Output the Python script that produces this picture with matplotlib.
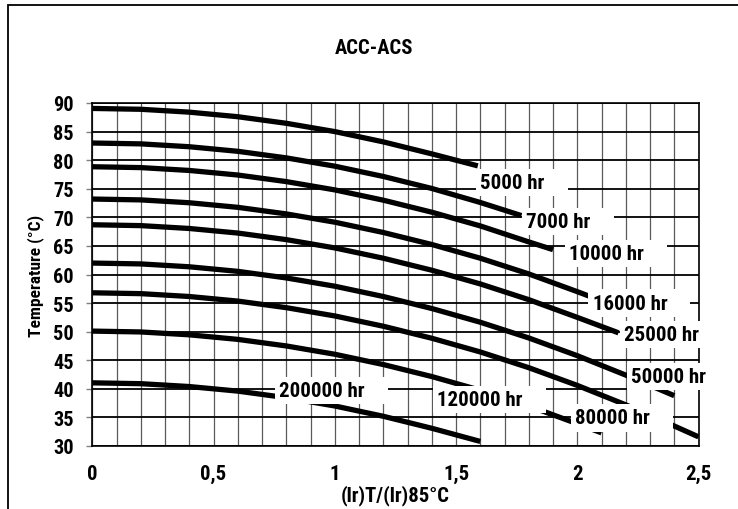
import os
import matplotlib.pyplot as plt
from matplotlib import font_manager
from matplotlib.textpath import TextPath
import numpy as np

# the original uses a tall condensed face; pick the narrowest bold file on the system
def narrow_bold():
    files = font_manager.findSystemFonts()
    prefs = ['NotoSans-ExtraCondensedBold.', 'LiberationSansNarrow-Bold.', 'RobotoCondensed-Bold.',
             'Roboto-CondensedBold', 'NotoSans-CondensedBold.', 'OpenSans-CondensedBold',
             'OpenSans_Condensed-Bold', 'DejaVuSansCondensed-Bold.']
    for p in prefs:
        for f in files:
            if os.path.basename(f).startswith(p):
                return font_manager.FontProperties(fname=f)
    for f in files:
        b = os.path.basename(f)
        if ('Condensed' in b or 'Narrow' in b) and 'Bold' in b and 'Italic' not in b:
            return font_manager.FontProperties(fname=f)
    return font_manager.FontProperties(family='DejaVu Sans', weight='bold')

FP = narrow_bold()

def size_for(text, px_wide, grow=1.1):
    # font size (pt) that makes `text` about px_wide pixels long at 100 dpi,
    # nudged up a little since the original face is taller for its width
    w = TextPath((0, 0), text, size=10, prop=FP).get_extents().width * 100 / 72
    return 10 * px_wide / w * grow

# readings: x = (Ir)T/(Ir)85°C, t = temperature in °C
x_5000 = [0, 0.2, 0.4, 0.6, 0.8, 1.0, 1.2, 1.4, 1.59]
t_5000 = [89.05, 88.9, 88.4, 87.6, 86.45, 85.0, 83.2, 81.1, 79.0]

x_7000 = [0, 0.2, 0.4, 0.6, 0.8, 1.0, 1.2, 1.4, 1.6, 1.77]
t_7000 = [83.0, 82.85, 82.35, 81.55, 80.4, 78.95, 77.15, 75.05, 72.6, 70.3]

x_10000 = [0, 0.2, 0.4, 0.6, 0.8, 1.0, 1.2, 1.4, 1.6, 1.8, 1.9]
t_10000 = [78.85, 78.7, 78.2, 77.4, 76.25, 74.8, 73.0, 70.9, 68.5, 65.7, 64.35]

x_16000 = [0, 0.2, 0.4, 0.6, 0.8, 1.0, 1.2, 1.4, 1.6, 1.8, 2.0, 2.05]
t_16000 = [73.2, 73.05, 72.55, 71.75, 70.6, 69.15, 67.35, 65.25, 62.85, 60.1, 57.0, 56.2]

x_25000 = [0, 0.2, 0.4, 0.6, 0.8, 1.0, 1.2, 1.4, 1.6, 1.8, 2.0, 2.17]
t_25000 = [68.7, 68.55, 68.05, 67.25, 66.1, 64.65, 62.85, 60.75, 58.35, 55.6, 52.5, 49.8]

x_50000 = [0, 0.2, 0.4, 0.6, 0.8, 1.0, 1.2, 1.4, 1.6, 1.8, 2.0, 2.2, 2.4]
t_50000 = [62.0, 61.85, 61.35, 60.55, 59.4, 57.95, 56.15, 54.05, 51.65, 48.9, 45.8, 42.4, 38.8]

x_80000 = [0, 0.2, 0.4, 0.6, 0.8, 1.0, 1.2, 1.4, 1.6, 1.8, 2.0, 2.2, 2.4, 2.5]
t_80000 = [56.8, 56.65, 56.15, 55.35, 54.2, 52.75, 50.95, 48.85, 46.45, 43.7, 40.6, 37.2, 33.5, 31.6]

x_120000 = [0, 0.2, 0.4, 0.6, 0.8, 1.0, 1.2, 1.4, 1.6, 1.8, 2.0, 2.1]
t_120000 = [50.1, 49.95, 49.45, 48.65, 47.5, 46.05, 44.25, 42.15, 39.75, 37.0, 33.9, 32.3]

x_200000 = [0, 0.2, 0.4, 0.6, 0.8, 1.0, 1.2, 1.4, 1.6]
t_200000 = [41.05, 40.9, 40.4, 39.6, 38.45, 37.0, 35.2, 33.1, 30.8]

curve_names = ['5000 hr', '7000 hr', '10000 hr', '16000 hr', '25000 hr',
               '50000 hr', '80000 hr', '120000 hr', '200000 hr']
curves_x = [x_5000, x_7000, x_10000, x_16000, x_25000, x_50000, x_80000, x_120000, x_200000]
curves_t = [t_5000, t_7000, t_10000, t_16000, t_25000, t_50000, t_80000, t_120000, t_200000]

# where each label sits (left edge, vertical centre), in data units
label_at = {
    '5000 hr': (1.60, 76.1),
    '7000 hr': (1.79, 69.3),
    '10000 hr': (1.967, 63.65),
    '16000 hr': (2.063, 55.0),
    '25000 hr': (2.193, 49.5),
    '50000 hr': (2.221, 42.2),
    '80000 hr': (1.991, 34.9),
    '120000 hr': (1.423, 38.15),
    '200000 hr': (0.77, 39.7),
}

xtick_vals = [0, 0.5, 1, 1.5, 2, 2.5]
xtick_text = ['0', '0,5', '1', '1,5', '2', '2,5']
ytick_vals = [30, 35, 40, 45, 50, 55, 60, 65, 70, 75, 80, 85, 90]

fs_label = size_for('5000 hr', 57)
fs_ytick = size_for('90', 17)
fs_xtick = size_for('0,5', 22)
fs_xlab = size_for('(lr)T/(lr)85°C', 98)
fs_ylab = size_for('Temperature (°C)', 110)
fs_title = size_for('ACC-ACS', 70)

W, H = 738, 510
fig = plt.figure(figsize=(W / 100, H / 100), dpi=100)
ax = fig.add_axes([92.3 / W, 1 - 447 / H, (698.5 - 92.3) / W, (447 - 104) / H])

# outer frame (only left and top edges show in the picture)
fig.add_artist(plt.Rectangle((8 / W, -0.1), 1.2, 1.1 - 6 / H, transform=fig.transFigure,
                             fill=False, edgecolor='black', linewidth=1.3))

for name, xs, ts in zip(curve_names, curves_x, curves_t):
    ax.plot(xs, ts, color='black', linewidth=3.8, solid_capstyle='butt',
            solid_joinstyle='round', zorder=3)
    lx, ly = label_at[name]
    ax.text(lx, ly, name + '    ', ha='left', va='center', fontproperties=FP,
            fontsize=fs_label, zorder=5,
            bbox=dict(boxstyle='square,pad=0.2', fc='white', ec='none'))

ax.set_xlim(0, 2.5)
ax.set_ylim(30, 90)
ax.set_xticks(xtick_vals)
ax.set_xticklabels(xtick_text, fontproperties=FP, fontsize=fs_xtick)
ax.set_xticks(np.arange(0, 2.51, 0.1), minor=True)
ax.set_yticks(ytick_vals)
ax.set_yticklabels([str(v) for v in ytick_vals], fontproperties=FP, fontsize=fs_ytick)

ax.grid(axis='x', which='both', color='#5a5a5a', linewidth=0.9, zorder=1)
ax.grid(axis='y', which='major', color='black', linewidth=1.3, zorder=1)
ax.set_axisbelow(True)

ax.tick_params(axis='x', which='both', length=0, pad=13)
ax.tick_params(axis='y', which='major', length=4.5, width=1, color='#808080',
               direction='out', pad=9)
for s in ax.spines.values():
    s.set_linewidth(1.2)
    s.set_color('black')

ax.set_xlabel('(lr)T/(lr)85°C', fontproperties=FP, fontsize=fs_xlab, labelpad=1)
ax.set_ylabel('Temperature (°C)', fontproperties=FP, fontsize=fs_ylab, labelpad=6)
fig.text(374 / W, 1 - 49 / H, 'ACC-ACS', ha='center', va='center',
         fontproperties=FP, fontsize=fs_title)

fig.savefig('out.png', dpi=100)
